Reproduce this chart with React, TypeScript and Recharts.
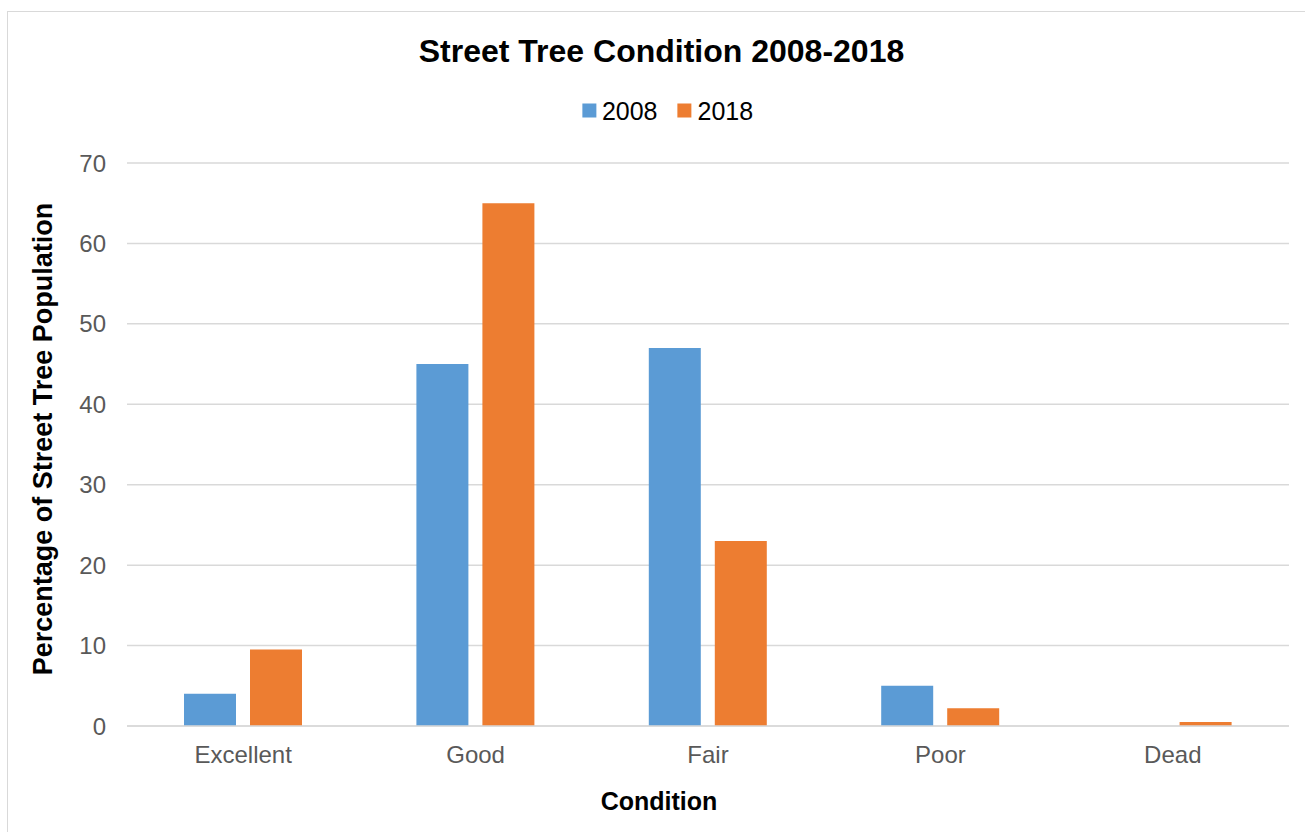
import { BarChart, Bar, XAxis, YAxis, CartesianGrid } from "recharts"

const conditions = ["Excellent", "Good", "Fair", "Poor", "Dead"]
const pct2008 = [4, 45, 47, 5, 0]
const pct2018 = [9.5, 65, 23, 2.2, 0.5]
const yTicks = [0, 10, 20, 30, 40, 50, 60, 70]

const series = [
  { key: "y2008", name: "2008", color: "#5b9bd5" },
  { key: "y2018", name: "2018", color: "#ed7d31" },
]

const data = conditions.map((c, i) => ({ condition: c, y2008: pct2008[i], y2018: pct2018[i] }))

const font = "'Liberation Sans', Arial, sans-serif"
const grid = "#d9d9d9"

const centered = {
  position: "absolute" as const,
  transform: "translate(-50%, -50%)",
  whiteSpace: "nowrap" as const,
  lineHeight: 1,
  fontFamily: font,
}

export default function App() {
  return (
    <>
      <style>{`body{margin:0;overflow:hidden;background:#fff}`}</style>
      <div
        style={{
          position: "absolute",
          left: 7,
          top: 11,
          width: 1310,
          height: 830,
          border: `1px solid ${grid}`,
          background: "#fff",
        }}
      >
        <div style={{ ...centered, left: 653.5, top: 38.8, fontSize: 32, fontWeight: "bold", color: "#000" }}>
          Street Tree Condition 2008-2018
        </div>

        {/* legend */}
        <div
          style={{
            ...centered,
            left: 659.5,
            top: 98.5,
            display: "flex",
            alignItems: "center",
            gap: 20,
            fontSize: 25,
            color: "#000",
          }}
        >
          {series.map((s) => (
            <div key={s.key} style={{ display: "flex", alignItems: "center", gap: 6 }}>
              <span style={{ width: 14, height: 14, background: s.color, display: "inline-block" }} />
              <span>{s.name}</span>
            </div>
          ))}
        </div>

        <div
          style={{
            ...centered,
            left: 34.7,
            top: 427,
            transform: "translate(-50%, -50%) rotate(-90deg)",
            fontSize: 27,
            fontWeight: "bold",
            color: "#000",
          }}
        >
          Percentage of Street Tree Population
        </div>

        <div style={{ ...centered, left: 651, top: 788.5, fontSize: 25, fontWeight: "bold", color: "#000" }}>
          Condition
        </div>

        <BarChart
          width={1300}
          height={820}
          data={data}
          margin={{ top: 151, right: 19, bottom: 56, left: 0 }}
          barSize={52}
          barGap={14}
          style={{ fontFamily: font }}
        >
          <CartesianGrid vertical={false} stroke={grid} strokeWidth={1.5} />
          <XAxis
            dataKey="condition"
            height={50}
            tickLine={false}
            tickSize={0}
            tickMargin={20}
            axisLine={{ stroke: grid, strokeWidth: 1.5 }}
            tick={{ fill: "#595959", fontSize: 24, fontFamily: font }}
          />
          <YAxis
            width={119}
            domain={[0, 70]}
            ticks={yTicks}
            tickLine={false}
            axisLine={false}
            tickSize={0}
            tickMargin={21}
            tick={{ fill: "#595959", fontSize: 24, fontFamily: font }}
          />
          {series.map((s) => (
            <Bar key={s.key} dataKey={s.key} name={s.name} fill={s.color} isAnimationActive={false} />
          ))}
        </BarChart>
      </div>
    </>
  )
}
